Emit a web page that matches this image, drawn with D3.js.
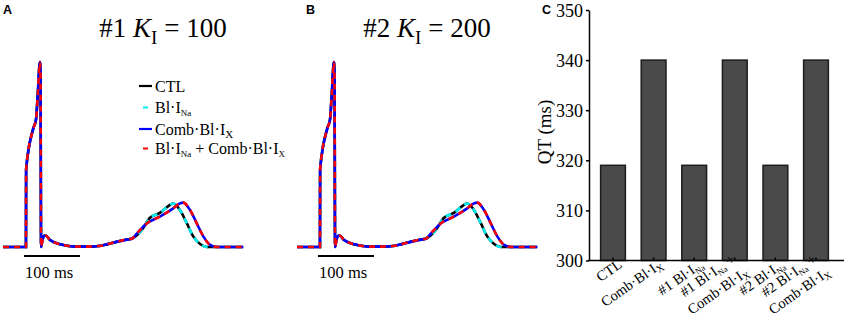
<!DOCTYPE html>
<html><head><meta charset="utf-8">
<script src="https://cdn.jsdelivr.net/npm/d3@7"></script>
<style>
body{margin:0;background:#fff}
svg{display:block}
text{font-family:"Liberation Serif","Times New Roman",serif;fill:#000}
</style>
</head><body>
<svg id="chart" width="851" height="320"></svg>
<script>
// ---------- DATA ----------
// ECG-like traces: [time (ms), normalised amplitude]
const ctlTrace = [[0,0],[41,0],[41.3,0.42],[54,0.64],[59,0.69],[62,0.82],[66,1],[67,0.93],[68,0.0],[70,0.03],[73,0.06],[76,0.062],[84,0.038],[102,0.015],[125,0.003],[150,0.002],[175,0.007],[204,0.029],[221,0.04],[233,0.05],[248,0.092],[262,0.157],[280,0.184],[298,0.227],[304,0.235],[316,0.2],[328,0.13],[340,0.056],[352,0.016],[364,0],[429,0]];
const blInaTrace = [[0,0],[41,0],[41.3,0.42],[54,0.64],[59,0.69],[62,0.82],[66,1],[67,0.93],[68,0.0],[70,0.03],[73,0.06],[76,0.062],[84,0.038],[102,0.015],[125,0.003],[150,0.002],[175,0.007],[204,0.029],[221,0.04],[233,0.05],[248,0.092],[262,0.157],[280,0.184],[298,0.227],[304,0.235],[316,0.2],[328,0.13],[340,0.056],[352,0.016],[364,0],[429,0]];
const combTrace = [[0,0],[41,0],[41.3,0.42],[54,0.64],[59,0.69],[62,0.82],[66,1],[67,0.93],[68,0.0],[70,0.03],[73,0.06],[76,0.062],[84,0.038],[102,0.015],[125,0.003],[150,0.002],[175,0.007],[204,0.029],[221,0.04],[230,0.045],[242,0.083],[257,0.128],[280,0.164],[304,0.209],[316,0.236],[322,0.24],[334,0.2],[346,0.128],[358,0.056],[370,0.011],[382,0],[429,0]];
const blInaCombTrace = [[0,0],[41,0],[41.3,0.42],[54,0.64],[59,0.69],[62,0.82],[66,1],[67,0.93],[68,0.0],[70,0.03],[73,0.06],[76,0.062],[84,0.038],[102,0.015],[125,0.003],[150,0.002],[175,0.007],[204,0.029],[221,0.04],[230,0.045],[242,0.083],[257,0.128],[280,0.164],[304,0.209],[316,0.236],[322,0.24],[334,0.2],[346,0.128],[358,0.056],[370,0.011],[382,0],[429,0]];
const scaleBarMs = 100;

const panelTitles = ["#1 *K*_{I} = 100", "#2 *K*_{I} = 200"];
const legendLabels = ["CTL", "Bl·I_{Na}", "Comb·Bl·I_{X}", "Bl·I_{Na} + Comb·Bl·I_{X}"];

// Bar chart (panel C)
const categories = ["CTL", "Comb·Bl·I_{X}", "#1 Bl·I_{Na}", "#1 Bl·I_{Na} +\nComb·Bl·I_{X}", "#2 Bl·I_{Na}", "#2 Bl·I_{Na} +\nComb·Bl·I_{X}"];
const qtValues = [319, 340, 319, 340, 319, 340];
const yTicks = [300, 310, 320, 330, 340, 350];
const yLabel = "QT (ms)";

// ---------- HELPERS ----------
function rich(sel, str, fs, subFs, subDy) {
  const parts = str.split(/(_\{[^}]*\}|\*[^*]*\*)/).filter(s => s.length);
  let pend = 0;
  parts.forEach(p => {
    let t;
    if (p.startsWith('_{')) {
      t = sel.append('tspan').attr('font-size', subFs).attr('dy', subDy + pend).text(p.slice(2, -1));
      pend = -subDy;
    } else if (p.startsWith('*')) {
      t = sel.append('tspan').attr('font-style', 'italic').attr('font-size', fs).text(p.slice(1, -1));
      if (pend) { t.attr('dy', pend); pend = 0; }
    } else {
      t = sel.append('tspan').attr('font-size', fs).text(p);
      if (pend) { t.attr('dy', pend); pend = 0; }
    }
  });
}

const svg = d3.select('#chart');

// ---------- PANELS A & B ----------
const yT = d3.scaleLinear().domain([0, 1]).range([247, 62]);
const panels = [
  {x0: 3, label: 'A', lx: 3, tx: 163},
  {x0: 297, label: 'B', lx: 306, tx: 427}
];
const series = [
  {data: ctlTrace, color: '#000000', dash: null},
  {data: blInaTrace, color: '#00f0f0', dash: '6,5'},
  {data: combTrace, color: '#0000ff', dash: null},
  {data: blInaCombTrace, color: '#ff0000', dash: '6,5'}
];

panels.forEach((p, i) => {
  const x = d3.scaleLinear().domain([0, 429]).range([p.x0, p.x0 + 429 * 0.56]);
  const line = d3.line().x(d => x(d[0])).y(d => yT(d[1])).curve(d3.curveMonotoneX);
  const g = svg.append('g');
  series.forEach(s => {
    g.append('path').attr('d', line(s.data)).attr('fill', 'none')
      .attr('stroke', s.color).attr('stroke-width', 2.6)
      .attr('stroke-dasharray', s.dash);
  });
  // scale bar
  g.append('line').attr('x1', x(37.5)).attr('x2', x(37.5 + scaleBarMs))
    .attr('y1', 256).attr('y2', 256).attr('stroke', '#000').attr('stroke-width', 2);
  g.append('text').attr('x', x(37.5) + 1).attr('y', 278).attr('font-size', 16.5).text(scaleBarMs + ' ms');
  // title
  const t = g.append('text').attr('x', p.tx).attr('y', 37).attr('text-anchor', 'middle');
  rich(t, panelTitles[i], 27, 19, 7);
  // panel label
  g.append('text').attr('x', p.lx).attr('y', 14).attr('font-size', 12.5)
    .style('font-family', '"Liberation Sans", Arial, sans-serif').attr('font-weight', 'bold').text(p.label);
});

// legend in panel A
const legY = [86, 107.5, 129, 148.5];
legendLabels.forEach((lab, i) => {
  const s = series[i];
  const gl = svg.append('g');
  gl.append('line').attr('x1', 139).attr('x2', 152).attr('y1', legY[i]).attr('y2', legY[i])
    .attr('stroke', s.color).attr('stroke-width', 2.2)
    .attr('stroke-dasharray', s.dash ? '0,4,5,4' : null);
  const t = gl.append('text').attr('x', 155).attr('y', legY[i] + 5.5);
  rich(t, lab, 16, i % 2 === 1 && lab.indexOf('Na') >= 0 ? 9 : 11, 3);
});

// ---------- PANEL C ----------
const xC = d3.scaleBand().domain(d3.range(categories.length)).range([592.7, 836.3]).paddingInner(0.39).paddingOuter(0.195);
const yC = d3.scaleLinear().domain([300, 350]).range([260.5, 10]);

svg.append('g').selectAll('rect').data(qtValues).join('rect')
  .attr('x', (d, i) => xC(i)).attr('width', xC.bandwidth())
  .attr('y', d => yC(d)).attr('height', d => yC(300) - yC(d))
  .attr('fill', '#4a4a4a').attr('stroke', '#1c1c1c').attr('stroke-width', 1.5);

const yAx = svg.append('g').attr('transform', 'translate(589,0)')
  .call(d3.axisLeft(yC).tickValues(yTicks).tickSize(3).tickSizeOuter(0).tickPadding(3));
yAx.select('.domain').attr('stroke-width', 1.5);
yAx.selectAll('.tick line').attr('stroke-width', 1.5);
yAx.selectAll('.tick text').attr('font-size', 18)
  .style('font-family', '"Liberation Serif","Times New Roman",serif').attr('dy', '0.34em');

const xAx = svg.append('g').attr('transform', 'translate(0,260.5)')
  .call(d3.axisBottom(xC).tickSize(-3).tickFormat(''));
xAx.select('.domain').remove();
xAx.selectAll('.tick line').attr('stroke-width', 1.5);
svg.append('line').attr('x1', 588.25).attr('x2', 844).attr('y1', 260.5).attr('y2', 260.5)
  .attr('stroke', '#000').attr('stroke-width', 1.5);

// x tick labels, rotated; multi-line blocks centred on the anchor
const lineGap = 18.5;
categories.forEach((cat, i) => {
  const cx = xC(i) + xC.bandwidth() / 2;
  const g = svg.append('g').attr('transform', `translate(${cx + 10},266.5) rotate(-35)`);
  const lines = cat.split('\n');
  if (lines.length === 1) {
    const t = g.append('text').attr('text-anchor', 'end');
    rich(t, lines[0], 14.5, cat.indexOf('Na') >= 0 ? 8.5 : 10.5, 3);
  } else {
    const ts = lines.map((ln, j) => {
      const t = g.append('text').attr('y', (j - (lines.length - 1) / 2) * lineGap);
      rich(t, ln, 14.5, ln.indexOf('Na') >= 0 ? 8.5 : 10.5, 3);
      return t;
    });
    const widths = ts.map(t => t.node().getComputedTextLength());
    const W = d3.max(widths);
    ts.forEach((t, j) => t.attr('x', -W / 2 - widths[j] / 2));
  }
});

// y label
svg.append('text').attr('transform', 'translate(551,132) rotate(-90)')
  .attr('text-anchor', 'middle').attr('font-size', 19).text(yLabel);
// panel label C
svg.append('text').attr('x', 542).attr('y', 14).attr('font-size', 12.5)
  .style('font-family', '"Liberation Sans", Arial, sans-serif').attr('font-weight', 'bold').text('C');
</script>
</body></html>
